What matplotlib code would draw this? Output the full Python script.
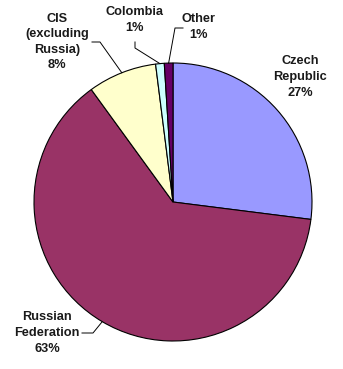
import numpy as np
import matplotlib
matplotlib.use("Agg")
import matplotlib.pyplot as plt

labels = ["Czech\nRepublic", "Russian\nFederation", "CIS\n(excluding\nRussia)", "Colombia", "Other"]
values = [27, 63, 8, 1, 1]
colors = ["#9999FF", "#993366", "#FFFFCC", "#CCFFFF", "#660066"]

W, H = 343, 369
fig = plt.figure(figsize=(W / 100, H / 100), dpi=100)
ax = fig.add_axes([0, 0, 1, 1])

cx, cy, r = 173, H - 202, 139
wedges, _ = ax.pie(values, colors=colors, startangle=90, counterclock=False,
                   center=(cx, cy), radius=r, frame=True,
                   wedgeprops=dict(edgecolor="black", linewidth=0.8))
ax.set_xlim(0, W)
ax.set_ylim(0, H)
ax.set_aspect("equal")
ax.axis("off")

font = dict(fontsize=9.2, fontweight="bold", family=["Liberation Sans", "DejaVu Sans"],
            ha="center", va="center", linespacing=1.4, color="#1a1a1a")

def edge_point(w):
    mid = np.deg2rad((w.theta1 + w.theta2) / 2)
    return cx + r * np.cos(mid), cy + r * np.sin(mid)

pcts = [f"{v}%" for v in values]
# label positions in pixel coords (x, y from top)
label_pos = [(300, 77), (47, 333), (57, 42), (135, 20), (198, 27)]
# leader line knee points (pixel coords), None = no leader
leaders = [None, [(82, 333), (93, 333)], [(92, 42), (100, 42)],
           [(135, 42), (135, 48)], [(183, 28), (175, 28)]]

for w, lab, pct, (lx, ly), ld in zip(wedges, labels, pcts, label_pos, leaders):
    ax.text(lx, H - ly, f"{lab}\n{pct}", **font)
    if ld is not None:
        ex, ey = edge_point(w)
        xs = [p[0] for p in ld] + [ex]
        ys = [H - p[1] for p in ld] + [ey]
        ax.plot(xs, ys, color="black", linewidth=0.7)

fig.savefig("out.png", dpi=100)
